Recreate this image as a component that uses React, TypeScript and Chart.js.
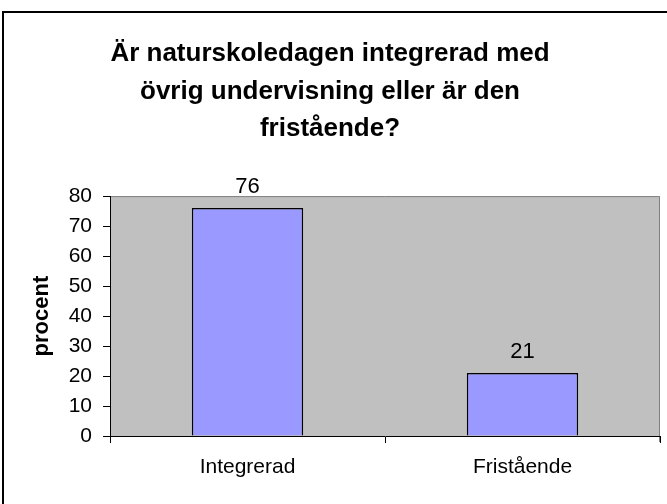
import React, { useEffect, useRef } from "react";
import { Chart, registerables } from "chart.js";

Chart.register(...registerables);

const categories = ["Integrerad", "Fristående"];
const values = [76, 21];
const titleLines = [
  "Är naturskoledagen integrerad med",
  "övrig undervisning eller är den",
  "fristående?",
];
const yAxisTitle = "procent";
const yMin = 0;
const yMax = 80;
const yStep = 10;

const FONT = "'Liberation Sans', Arial, sans-serif";

const plotBgPlugin = {
  id: "plotBg",
  beforeDraw(chart: any) {
    const { ctx, chartArea } = chart;
    ctx.save();
    ctx.fillStyle = "#C0C0C0";
    ctx.fillRect(chartArea.left, chartArea.top, chartArea.right - chartArea.left, chartArea.bottom - chartArea.top);
    ctx.strokeStyle = "#808080";
    ctx.lineWidth = 1;
    ctx.beginPath();
    ctx.moveTo(chartArea.left, chartArea.top + 0.5);
    ctx.lineTo(chartArea.right - 0.5, chartArea.top + 0.5);
    ctx.lineTo(chartArea.right - 0.5, chartArea.bottom + 6);
    ctx.stroke();
    ctx.restore();
  },
};

const valueLabelPlugin = {
  id: "valueLabels",
  afterDatasetsDraw(chart: any) {
    const { ctx } = chart;
    ctx.save();
    ctx.fillStyle = "#000";
    ctx.font = `22px ${FONT}`;
    ctx.textAlign = "center";
    ctx.textBaseline = "alphabetic";
    chart.data.datasets.forEach((ds: any, di: number) => {
      const meta = chart.getDatasetMeta(di);
      meta.data.forEach((el: any, i: number) => {
        ctx.fillText(String(ds.data[i]), el.x, el.y - 15);
      });
    });
    ctx.restore();
  },
};

export default function App() {
  const ref = useRef<HTMLCanvasElement>(null);
  useEffect(() => {
    if (!ref.current) return;
    const chart = new Chart(ref.current, {
      type: "bar",
      data: {
        labels: categories,
        datasets: [
          {
            data: values,
            backgroundColor: "#9999FF",
            borderColor: "#000000",
            borderWidth: 1.5,
            categoryPercentage: 1,
            barPercentage: 0.405,
          },
        ],
      },
      options: {
        animation: false,
        responsive: false,
        maintainAspectRatio: false,
        layout: { padding: { left: 0, right: 7, top: 0, bottom: 0 } },
        plugins: {
          legend: { display: false },
          tooltip: { enabled: false },
          title: {
            display: true,
            text: titleLines,
            color: "#000",
            font: { family: FONT, size: 26, weight: "bold", lineHeight: 1.45 },
            padding: { top: 35, bottom: 48 },
          },
        },
        scales: {
          x: {
            afterFit(scale: any) {
              scale.height = 68;
            },
            grid: {
              display: true,
              drawOnChartArea: false,
              drawTicks: true,
              tickLength: 7,
              color: "#000",
              offset: true,
            },
            border: { display: true, color: "#000", width: 1 },
            ticks: {
              color: "#000",
              font: { family: FONT, size: 21 },
              padding: 12,
              maxRotation: 0,
            },
          },
          y: {
            min: yMin,
            max: yMax,
            afterFit(scale: any) {
              scale.width = 110;
            },
            grid: {
              display: true,
              drawOnChartArea: false,
              drawTicks: true,
              tickLength: 7,
              color: "#000",
            },
            border: { display: true, color: "#000", width: 1 },
            ticks: {
              stepSize: yStep,
              color: "#000",
              font: { family: FONT, size: 21 },
              padding: 11,
            },
            title: {
              display: true,
              text: yAxisTitle,
              color: "#000",
              font: { family: FONT, size: 22, weight: "bold" },
              padding: { top: 29, bottom: 0 },
            },
          },
        },
      },
      plugins: [plotBgPlugin, valueLabelPlugin],
    });
    return () => chart.destroy();
  }, []);

  return (
    <div style={{ position: "fixed", left: 0, top: 0, width: 667, height: 504, background: "#fff", overflow: "hidden" }}>
      <canvas ref={ref} width={667} height={504} style={{ position: "absolute", left: 0, top: 0, width: 667, height: 504 }} />
      <div
        style={{
          position: "absolute",
          left: 2,
          top: 11,
          width: 700,
          height: 600,
          borderTop: "2px solid #000",
          borderLeft: "2px solid #000",
          pointerEvents: "none",
        }}
      />
    </div>
  );
}
